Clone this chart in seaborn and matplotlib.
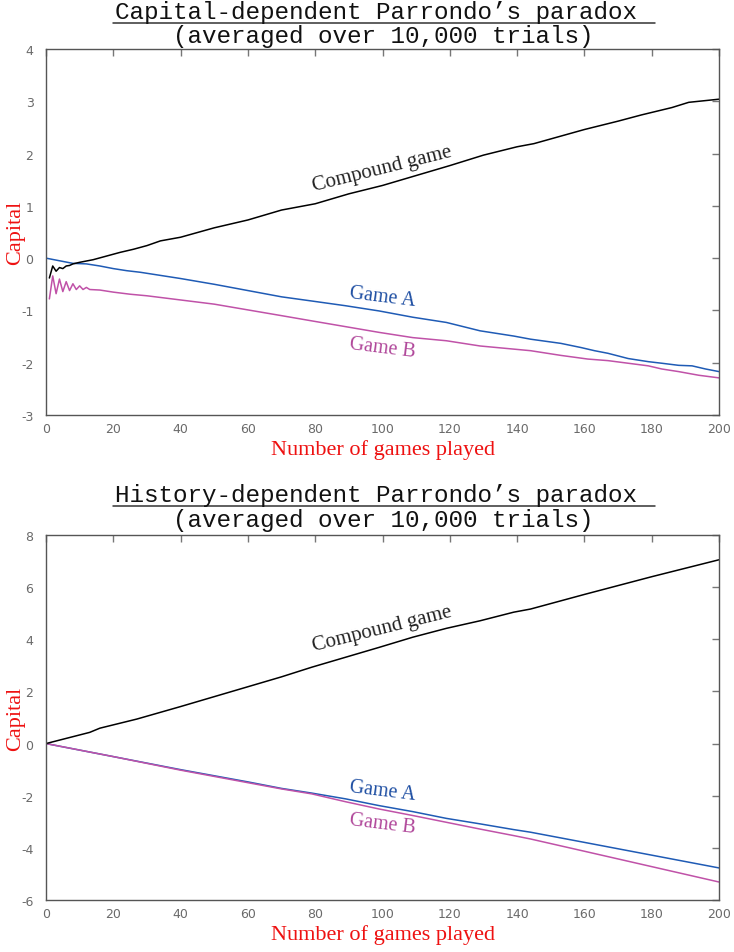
import matplotlib
matplotlib.use("Agg")
import matplotlib.pyplot as plt
import numpy as np
import pandas as pd
import seaborn as sns
from matplotlib.lines import Line2D

# ---------------- data ----------------
# Capital-dependent paradox
cap_compound_games = [1, 2, 3, 4, 5, 6, 7, 8, 10, 14, 18, 22, 26, 30, 34, 40, 50, 60, 70, 80,
                      90, 100, 110, 120, 130, 140, 145, 150, 160, 170, 177, 186, 191, 200]
cap_compound_vals = [-0.38, -0.15, -0.25, -0.18, -0.20, -0.15, -0.14, -0.11, -0.08, -0.03,
                     0.04, 0.11, 0.17, 0.24, 0.33, 0.40, 0.58, 0.73, 0.92, 1.04,
                     1.23, 1.39, 1.58, 1.77, 1.97, 2.13, 2.19, 2.28, 2.46, 2.62, 2.74, 2.88, 2.98, 3.04]

cap_a_games = [0, 4, 8, 12, 16, 20, 24, 28, 32, 36, 40, 50, 60, 70, 79, 89, 99, 109, 119, 129,
               139, 144, 153, 159, 163, 167, 173, 179, 183, 188, 192, 196, 200]
cap_a_vals = [0.0, -0.05, -0.10, -0.11, -0.15, -0.20, -0.24, -0.27, -0.31, -0.35, -0.39, -0.50,
              -0.62, -0.74, -0.82, -0.91, -1.01, -1.13, -1.23, -1.39, -1.49, -1.55, -1.63,
              -1.71, -1.77, -1.82, -1.92, -1.98, -2.01, -2.05, -2.06, -2.12, -2.17]

cap_b_games = [1, 2, 3, 4, 5, 6, 7, 8, 9, 10, 11, 12, 13, 16, 20, 25, 30, 35, 40, 50, 60, 70,
               79, 89, 99, 109, 119, 129, 139, 144, 153, 161, 167, 173, 179, 183, 188, 194, 200]
cap_b_vals = [-0.78, -0.34, -0.68, -0.40, -0.64, -0.45, -0.62, -0.49, -0.60, -0.53, -0.60, -0.56,
              -0.60, -0.61, -0.65, -0.69, -0.72, -0.76, -0.80, -0.88, -0.99, -1.10, -1.20,
              -1.31, -1.42, -1.52, -1.58, -1.68, -1.74, -1.77, -1.86, -1.93, -1.96, -2.01,
              -2.06, -2.12, -2.17, -2.24, -2.29]

# History-dependent paradox
his_compound_games = [0, 13, 16, 27, 40, 50, 60, 70, 79, 89, 99, 109, 119, 129, 139, 144, 160, 180, 200]
his_compound_vals = [0.0, 0.43, 0.59, 0.94, 1.42, 1.80, 2.18, 2.56, 2.93, 3.31, 3.69, 4.08,
                     4.42, 4.71, 5.04, 5.16, 5.72, 6.40, 7.05]

his_ab_games = [0, 20, 40, 60, 70, 79, 89, 99, 109, 119, 129, 139, 144, 160, 180, 200]
his_a_vals = [0.0, -0.50, -1.00, -1.47, -1.72, -1.90, -2.12, -2.38, -2.61, -2.87, -3.08,
              -3.30, -3.40, -3.79, -4.28, -4.77]
his_b_vals = [0.0, -0.50, -1.02, -1.50, -1.74, -1.93, -2.23, -2.51, -2.76, -3.02, -3.28,
              -3.53, -3.66, -4.13, -4.72, -5.31]

x_ticks = [0, 20, 40, 60, 80, 100, 120, 140, 160, 180, 200]
cap_y_ticks = [-3, -2, -1, 0, 1, 2, 3, 4]
his_y_ticks = [-6, -4, -2, 0, 2, 4, 6, 8]

titles = ["Capital-dependent Parrondo\u2019s paradox ", "History-dependent Parrondo\u2019s paradox "]
subtitle = "(averaged over 10,000 trials)"
series_names = ["Game A", "Game B", "Compound game"]

# ---------------- style ----------------
sns.set_style("white")
plt.rcParams["font.family"] = ["DejaVu Sans"]
plt.rcParams["axes.unicode_minus"] = False

BLUE = "#1f5bb5"
MAGENTA = "#c052a8"
palette = {"Game A": BLUE, "Game B": MAGENTA, "Compound game": "black"}
SERIF = ["Liberation Serif", "DejaVu Serif"]
MONO = ["Liberation Mono", "DejaVu Sans Mono"]

W, H = 734, 953
fig = plt.figure(figsize=(W / 100, H / 100), dpi=100)


def px_axes(left, top, right, bottom):
    return fig.add_axes([left / W, 1 - bottom / H, (right - left) / W, (bottom - top) / H])


ax1 = px_axes(46, 50, 719, 416)
ax2 = px_axes(46, 536, 719, 901)


def long_df(parts):
    frames = []
    for name, g, v in parts:
        frames.append(pd.DataFrame({"game": g, "capital": v, "series": name}))
    return pd.concat(frames, ignore_index=True)


df1 = long_df([("Game A", cap_a_games, cap_a_vals),
               ("Game B", cap_b_games, cap_b_vals),
               ("Compound game", cap_compound_games, cap_compound_vals)])
df2 = long_df([("Game A", his_ab_games, his_a_vals),
               ("Game B", his_ab_games, his_b_vals),
               ("Compound game", his_compound_games, his_compound_vals)])


def style_axes(ax, yticks):
    ax.set_xlim(0, 200)
    ax.set_ylim(yticks[0], yticks[-1])
    ax.set_xticks(x_ticks)
    ax.set_yticks(yticks)
    ax.set_xticklabels([str(t) for t in x_ticks])
    ax.set_yticklabels([str(t) for t in yticks])
    ax.tick_params(axis="both", direction="in", length=5, width=1, colors="#777777",
                   labelcolor="#6a6a6a", labelsize=9, top=True, right=True)
    ax.tick_params(axis="x", pad=5)
    ax.tick_params(axis="y", pad=9)
    for s in ax.spines.values():
        s.set_color("#555555")
        s.set_linewidth(1.0)
        s.set_visible(True)
    ax.set_xlabel("Number of games played", family=SERIF, fontsize=16, color="#ee1111")
    ax.set_ylabel("Capital", family=SERIF, fontsize=16, color="#ee1111")
    ax.xaxis.set_label_coords(0.5, -24 / 366)
    ax.xaxis.label.set_va("top")
    ax.yaxis.set_label_coords(-30 / 673, 0.5)
    ax.yaxis.label.set_va("center")
    ax.grid(False)


for ax, df, yt in [(ax1, df1, cap_y_ticks), (ax2, df2, his_y_ticks)]:
    sns.lineplot(data=df, x="game", y="capital", hue="series", hue_order=series_names,
                 palette=palette, estimator=None, legend=False, linewidth=1.1, ax=ax)
    style_axes(ax, yt)

# inline labels
ax1.text(100, 1.72, "Compound game", family=SERIF, fontsize=15, color="#222222",
         rotation=14, ha="center", va="center", rotation_mode="anchor")
ax1.text(100, -0.74, "Game A", family=SERIF, fontsize=14.5, color="#1f4fa3",
         rotation=-7, ha="center", va="center", rotation_mode="anchor")
ax1.text(100, -1.72, "Game B", family=SERIF, fontsize=14.5, color="#b0479a",
         rotation=-7, ha="center", va="center", rotation_mode="anchor")

ax2.text(100, 4.40, "Compound game", family=SERIF, fontsize=15, color="#222222",
         rotation=14, ha="center", va="center", rotation_mode="anchor")
ax2.text(100, -1.82, "Game A", family=SERIF, fontsize=14.5, color="#1f4fa3",
         rotation=-7, ha="center", va="center", rotation_mode="anchor")
ax2.text(100, -3.08, "Game B", family=SERIF, fontsize=14.5, color="#b0479a",
         rotation=-7, ha="center", va="center", rotation_mode="anchor")

# titles with underline on the first line
for title, base1, base2 in [(titles[0], 19, 43), (titles[1], 502, 527)]:
    fig.text(383 / W, 1 - base1 / H, title, family=MONO, fontsize=17.5, color="#111111",
             ha="center", va="baseline")
    fig.text(383 / W, 1 - base2 / H, subtitle, family=MONO, fontsize=17.5, color="#111111",
             ha="center", va="baseline")
    uy = 1 - (base1 + 4.5) / H
    fig.add_artist(Line2D([113 / W, 655 / W], [uy, uy], transform=fig.transFigure,
                          color="#333333", linewidth=1.1))

fig.savefig("out.png", dpi=100)
